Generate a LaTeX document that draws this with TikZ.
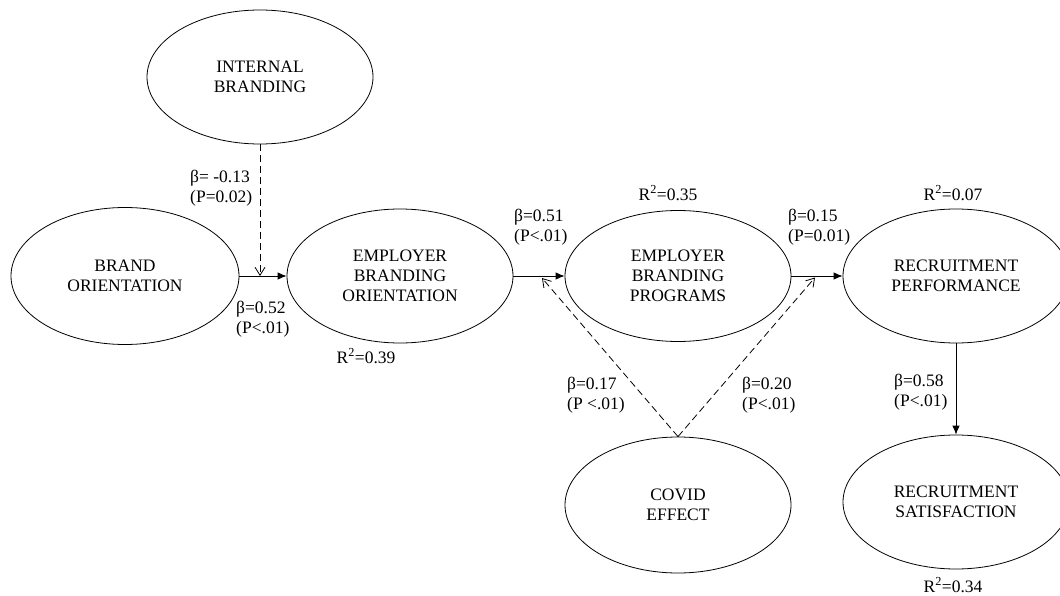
\documentclass[tikz,border=0pt]{standalone}
\usepackage{fontspec}
\setmainfont{Liberation Serif}
\usetikzlibrary{arrows.meta,shapes.geometric}
\begin{document}
\begin{tikzpicture}[x=1pt,y=-1pt,
  latent/.style={ellipse,draw,line width=0.8pt,minimum width=226pt,minimum height=134pt,inner sep=0pt,align=center,font=\fontsize{17.5}{20}\selectfont},
  lbl/.style={align=left,font=\fontsize{17.5}{20}\selectfont,inner sep=0pt},
  causal/.style={line width=0.8pt,-{Latex[length=9pt,width=7.5pt]}},
  modr/.style={line width=0.8pt,dash pattern=on 7pt off 4pt,-{Straight Barb[length=8pt,width=10pt]}}
]
\useasboundingbox (0,0) rectangle (1060,596);

\node[latent] (IB) at (260,77) {INTERNAL\\BRANDING};
\node[latent,minimum width=228pt,minimum height=137pt] (BO) at (125,276) {BRAND\\ORIENTATION};
\node[latent] (EBO) at (400,276) {EMPLOYER\\BRANDING\\ORIENTATION};
\node[latent,minimum height=131pt] (EBP) at (678,276) {EMPLOYER\\BRANDING\\PROGRAMS};
\node[latent] (RP) at (956,276) {RECRUITMENT\\PERFORMANCE};
\node[latent] (RS) at (956,502) {RECRUITMENT\\SATISFACTION};
\node[latent,minimum height=136pt] (CE) at (678,505) {COVID\\EFFECT};

\coordinate (j1) at (IB.south |- BO.east);
\coordinate (j2) at (542,278);
\coordinate (j3) at (815,277.5);

\draw[causal] (BO.east) -- (EBO.west);
\draw[causal] (EBO.east) -- (EBP.west);
\draw[causal] (EBP.east) -- (RP.west);
\draw[causal] (RP.south) -- (RS.north);

\draw[modr] (IB.south) -- (j1);
\draw[modr] (CE.north) -- (j2);
\draw[modr] (CE.north) -- (j3);

\node[lbl,anchor=west] (l1) at (190,188) {β= -0.13\\(P=0.02)};
\node[lbl,anchor=west] (l2) at (236,319) {β=0.52\\(P<.01)};
\node[lbl] (r1) at (366,356) {R\textsuperscript{2}=0.39};
\node[lbl,anchor=west] (l3) at (514,227) {β=0.51\\(P<.01)};
\node[lbl] (r2) at (668,193) {R\textsuperscript{2}=0.35};
\node[lbl,anchor=west] (l4) at (788,227) {β=0.15\\(P=0.01)};
\node[lbl] (r3) at (953,193) {R\textsuperscript{2}=0.07};
\node[lbl,anchor=west] (l5) at (567,395) {β=0.17\\(P <.01)};
\node[lbl,anchor=west] (l6) at (742,395) {β=0.20\\(P<.01)};
\node[lbl,anchor=west] (l7) at (894,392) {β=0.58\\(P<.01)};
\node[lbl] (r4) at (953,585) {R\textsuperscript{2}=0.34};
\end{tikzpicture}
\end{document}
